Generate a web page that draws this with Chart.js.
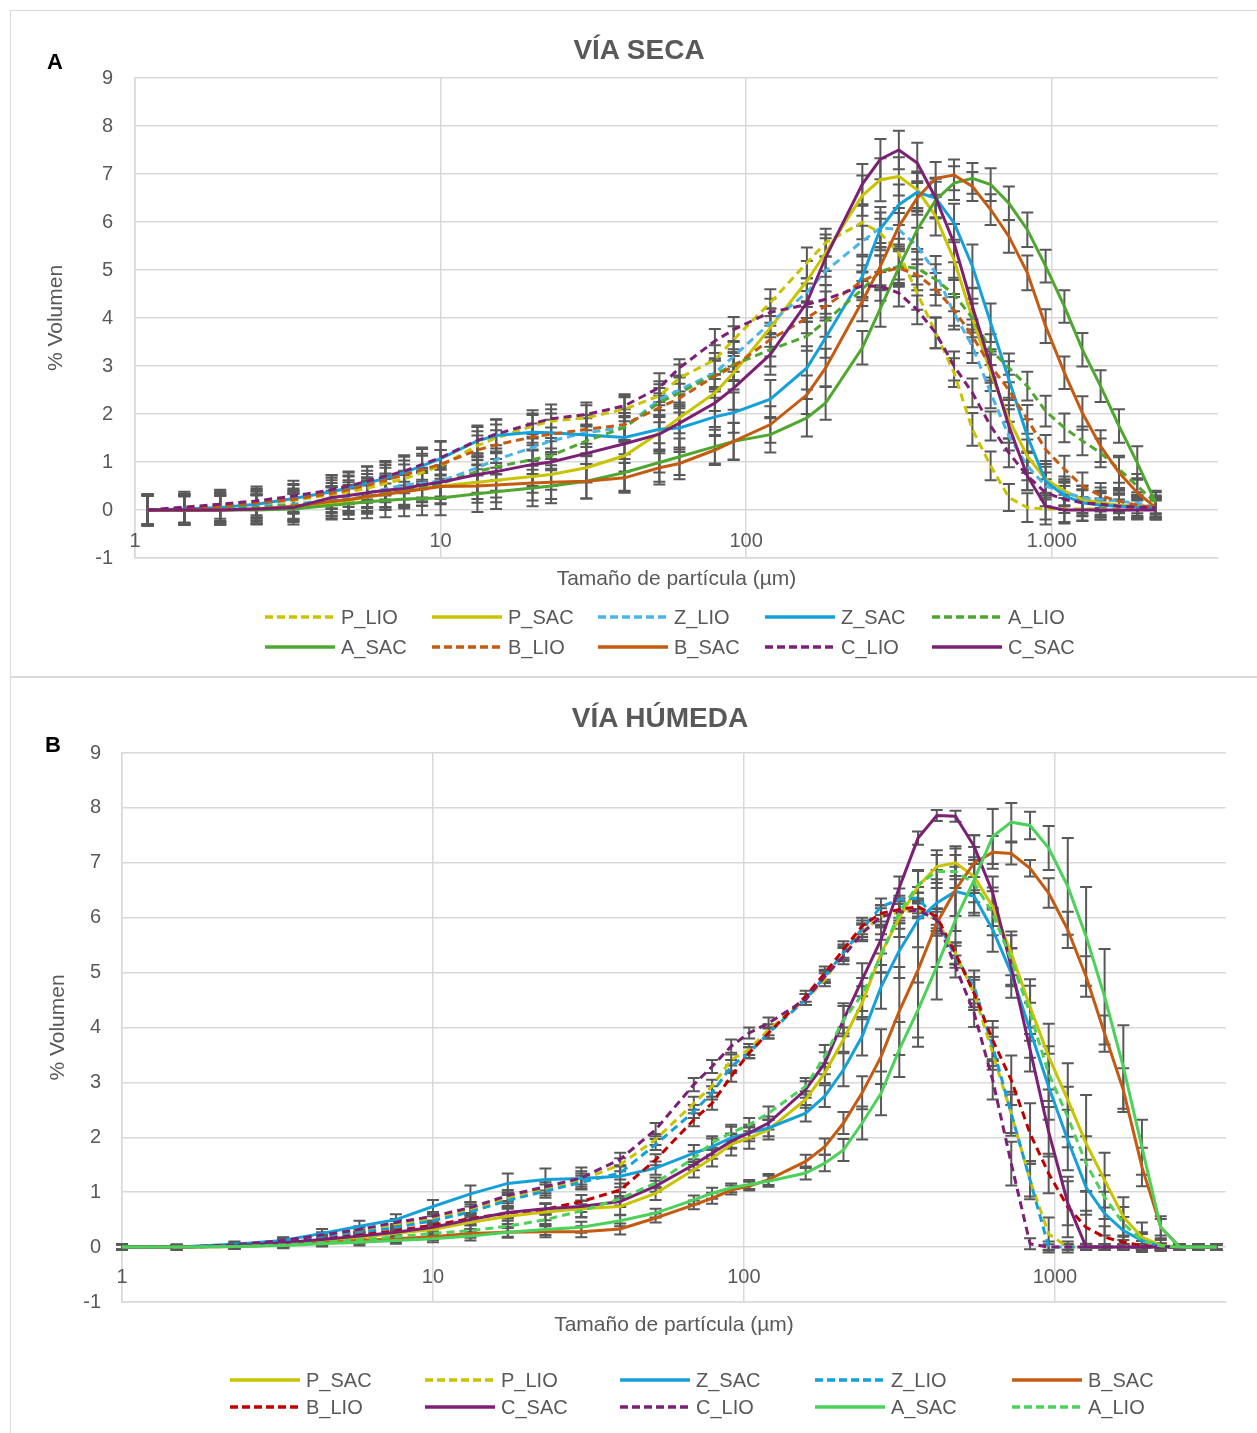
<!DOCTYPE html>
<html>
<head>
<meta charset="utf-8">
<script src="https://cdn.jsdelivr.net/npm/chart.js@4.4.1/dist/chart.umd.min.js"></script>
<style>
  body { margin: 0; width: 1257px; height: 1433px; overflow: hidden; background: #fff; position: relative;
         font-family: "Liberation Sans", Arial, sans-serif; }
  .frame { position: absolute; border: 1.5px solid #d9d9d9; }
  canvas { position: absolute; }
  .ttl { position: absolute; font-weight: bold; font-size: 28px; line-height: 32px; color: #595959;
         transform: translateX(-50%); white-space: nowrap; }
  .tag { position: absolute; font-weight: bold; font-size: 22px; line-height: 26px; color: #000; }
  .leg { position: absolute; font-size: 20px; line-height: 24px; height: 24px; color: #595959;
         white-space: nowrap; display: flex; align-items: center; }
  .leg svg { margin-right: 6px; }
</style>
</head>
<body>
<div class="frame" style="left:10px;top:10px;width:1260px;height:665px"></div>
<div class="frame" style="left:10px;top:677px;width:1260px;height:770px"></div>
<canvas id="chartA" width="1247" height="665" style="left:10px;top:10px"></canvas>
<canvas id="chartB" width="1247" height="756" style="left:10px;top:677px"></canvas>
<div class="ttl" style="left:639px;top:34px">VÍA SECA</div>
<div class="ttl" style="left:660px;top:702px">VÍA HÚMEDA</div>
<div class="tag" style="left:47px;top:49px">A</div>
<div class="tag" style="left:45px;top:732px">B</div>
<div id="legends"></div>

<script>
const FONT = '"Liberation Sans", Arial, sans-serif'

// ---- panel A: VÍA SECA ----
const sizesA = [1.1, 1.45, 1.9, 2.5, 3.3, 4.4, 5.0, 5.75, 6.6, 7.6, 8.7, 10, 13.2, 15.2, 20, 23, 30, 40, 52, 60.5,
  79, 91, 120, 158, 182, 240, 275, 316, 363, 417, 479, 550, 631, 724, 832, 955, 1100, 1260, 1445, 1660, 1905, 2190]
const ticksA = [1, 10, 100, 1000]
const tickLabelsA = ['1', '10', '100', '1.000']

const secaP_LIO = [0, 0.03, 0.07, 0.12, 0.2, 0.32, 0.38, 0.45, 0.55, 0.65, 0.78, 0.92, 1.34, 1.5, 1.75, 1.85, 1.92, 2.1, 2.38, 2.75,
  3.13, 3.55, 4.32, 5.15, 5.57, 5.99, 5.77, 5.35, 4.52, 3.69, 2.86, 1.68, 0.92, 0.26, 0.05, 0.02, 0.02, 0.02, 0.02, 0.02, 0.02, 0.02]
const secaP_SAC = [0, 0, 0, 0.02, 0.06, 0.15, 0.2, 0.27, 0.33, 0.4, 0.45, 0.5, 0.58, 0.62, 0.7, 0.74, 0.88, 1.13, 1.61, 1.92,
  2.44, 2.86, 3.8, 4.77, 5.36, 6.55, 6.88, 6.95, 6.67, 6.12, 5.21, 4.0, 2.86, 1.89, 1.12, 0.64, 0.4, 0.22, 0.15, 0.1, 0.08, 0.05]
const secaZ_LIO = [0, 0.02, 0.05, 0.08, 0.12, 0.22, 0.28, 0.36, 0.44, 0.52, 0.56, 0.6, 0.88, 1.05, 1.3, 1.44, 1.61, 1.72, 2.3, 2.5,
  2.86, 3.2, 3.9, 4.53, 4.98, 5.6, 5.88, 5.84, 5.5, 4.94, 4.1, 3.41, 2.44, 1.54, 0.92, 0.5, 0.36, 0.26, 0.22, 0.18, 0.15, 0.05]
const secaZ_SAC = [0, 0.02, 0.05, 0.12, 0.24, 0.38, 0.46, 0.56, 0.66, 0.78, 0.92, 1.07, 1.44, 1.55, 1.62, 1.61, 1.56, 1.51, 1.68, 1.71,
  1.94, 2.03, 2.31, 2.96, 3.59, 4.87, 5.86, 6.36, 6.62, 6.5, 5.98, 5.08, 3.9, 2.72, 1.54, 0.6, 0.3, 0.15, 0.1, 0.08, 0.06, 0.05]
const secaA_LIO = [0, 0, 0.02, 0.05, 0.1, 0.18, 0.22, 0.28, 0.35, 0.42, 0.48, 0.55, 0.8, 0.9, 1.05, 1.13, 1.44, 1.72, 2.24, 2.44,
  2.82, 3.03, 3.34, 3.62, 3.93, 4.6, 4.97, 5.08, 5.04, 4.8, 4.49, 4.0, 3.34, 2.96, 2.58, 2.06, 1.71, 1.44, 1.19, 0.85, 0.5, 0.15]
const secaA_SAC = [0, 0, 0, 0, 0.02, 0.1, 0.13, 0.17, 0.2, 0.23, 0.24, 0.25, 0.34, 0.38, 0.46, 0.5, 0.6, 0.78, 0.99, 1.11,
  1.32, 1.43, 1.57, 1.92, 2.23, 3.38, 4.2, 5.05, 5.84, 6.46, 6.81, 6.91, 6.78, 6.39, 5.84, 5.08, 4.24, 3.34, 2.58, 1.75, 0.98, 0.15]
const secaB_LIO = [0, 0.03, 0.08, 0.15, 0.22, 0.35, 0.42, 0.52, 0.62, 0.73, 0.84, 0.95, 1.25, 1.36, 1.52, 1.58, 1.68, 1.78, 2.13, 2.33,
  2.79, 2.99, 3.55, 4.0, 4.25, 4.77, 4.95, 5.04, 4.9, 4.6, 4.17, 3.62, 3.0, 2.5, 1.89, 1.26, 0.85, 0.5, 0.3, 0.18, 0.1, 0.05]
const secaB_SAC = [0, 0, 0, 0.02, 0.08, 0.18, 0.22, 0.28, 0.33, 0.38, 0.43, 0.49, 0.5, 0.52, 0.56, 0.58, 0.6, 0.67, 0.88, 0.97,
  1.25, 1.43, 1.78, 2.4, 2.96, 4.35, 5.08, 5.91, 6.5, 6.91, 6.98, 6.74, 6.26, 5.7, 4.94, 3.83, 2.86, 2.02, 1.33, 0.78, 0.36, 0.05]
const secaC_LIO = [0, 0.06, 0.12, 0.19, 0.29, 0.42, 0.5, 0.6, 0.7, 0.81, 0.95, 1.09, 1.45, 1.58, 1.8, 1.9, 1.99, 2.17, 2.55, 2.96,
  3.52, 3.76, 4.12, 4.28, 4.39, 4.67, 4.66, 4.52, 4.17, 3.69, 3.0, 2.44, 1.75, 1.19, 0.71, 0.36, 0.22, 0.15, 0.12, 0.08, 0.06, 0.05]
const secaC_SAC = [0, 0, 0, 0.02, 0.05, 0.26, 0.3, 0.36, 0.41, 0.45, 0.52, 0.58, 0.74, 0.8, 0.95, 1.0, 1.18, 1.38, 1.58, 1.81,
  2.23, 2.54, 3.24, 4.32, 5.26, 6.79, 7.31, 7.5, 7.23, 6.5, 5.56, 4.24, 3.0, 1.75, 0.71, 0.08, 0, 0, 0, 0, 0, 0]

// standard deviations (error bars)
const errSecaP_LIO = [0.32, 0.3, 0.3, 0.28, 0.25, 0.3, 0.32, 0.3, 0.33, 0.3, 0.35, 0.33, 0.3, 0.28, 0.26, 0.25, 0.26, 0.25, 0.3, 0.28,
  0.3, 0.28, 0.28, 0.32, 0.29, 0.35, 0.3, 0.3, 0.35, 0.32, 0.3, 0.34, 0.3, 0.28, 0.3, 0.32, 0.3, 0.25, 0.22, 0.2, 0.2, 0.2]
const errSecaP_SAC = [0.3, 0.28, 0.3, 0.3, 0.28, 0.32, 0.3, 0.35, 0.32, 0.34, 0.36, 0.38, 0.35, 0.36, 0.34, 0.32, 0.3, 0.33, 0.35, 0.32,
  0.38, 0.35, 0.4, 0.42, 0.38, 0.42, 0.45, 0.4, 0.38, 0.4, 0.42, 0.4, 0.38, 0.4, 0.35, 0.38, 0.3, 0.28, 0.25, 0.25, 0.22, 0.22]
const errSecaZ_LIO = [0.3, 0.32, 0.3, 0.3, 0.3, 0.28, 0.3, 0.3, 0.28, 0.3, 0.3, 0.32, 0.3, 0.3, 0.28, 0.28, 0.3, 0.3, 0.32, 0.3,
  0.3, 0.32, 0.3, 0.3, 0.3, 0.32, 0.32, 0.35, 0.38, 0.35, 0.34, 0.35, 0.32, 0.3, 0.3, 0.28, 0.28, 0.25, 0.25, 0.22, 0.22, 0.2]
const errSecaZ_SAC = [0.33, 0.32, 0.3, 0.3, 0.3, 0.35, 0.32, 0.35, 0.33, 0.36, 0.38, 0.35, 0.32, 0.34, 0.36, 0.4, 0.42, 0.45, 0.5, 0.45,
  0.4, 0.42, 0.4, 0.45, 0.42, 0.45, 0.45, 0.42, 0.4, 0.42, 0.4, 0.45, 0.4, 0.38, 0.35, 0.3, 0.3, 0.28, 0.25, 0.25, 0.22, 0.2]
const errSecaA_LIO = [0.3, 0.3, 0.28, 0.28, 0.3, 0.3, 0.28, 0.3, 0.3, 0.32, 0.3, 0.3, 0.3, 0.28, 0.3, 0.3, 0.32, 0.3, 0.3, 0.32,
  0.3, 0.32, 0.35, 0.3, 0.32, 0.35, 0.33, 0.35, 0.34, 0.32, 0.35, 0.3, 0.32, 0.3, 0.3, 0.32, 0.3, 0.3, 0.3, 0.28, 0.25, 0.22]
const errSecaA_SAC = [0.33, 0.3, 0.3, 0.3, 0.32, 0.3, 0.32, 0.34, 0.35, 0.36, 0.35, 0.36, 0.38, 0.36, 0.38, 0.36, 0.36, 0.38, 0.4, 0.38,
  0.35, 0.38, 0.37, 0.39, 0.35, 0.35, 0.38, 0.4, 0.4, 0.38, 0.35, 0.32, 0.34, 0.35, 0.36, 0.34, 0.34, 0.35, 0.33, 0.35, 0.35, 0.25]
const errSecaB_LIO = [0.3, 0.3, 0.32, 0.3, 0.3, 0.32, 0.3, 0.3, 0.32, 0.3, 0.33, 0.3, 0.3, 0.3, 0.28, 0.3, 0.3, 0.32, 0.3, 0.3,
  0.32, 0.3, 0.35, 0.32, 0.3, 0.33, 0.35, 0.35, 0.32, 0.34, 0.33, 0.35, 0.3, 0.32, 0.3, 0.3, 0.28, 0.28, 0.26, 0.25, 0.22, 0.22]
const errSecaB_SAC = [0.32, 0.3, 0.3, 0.3, 0.3, 0.3, 0.3, 0.32, 0.33, 0.35, 0.34, 0.35, 0.35, 0.36, 0.36, 0.35, 0.36, 0.31, 0.35, 0.33,
  0.31, 0.39, 0.38, 0.4, 0.4, 0.42, 0.4, 0.38, 0.35, 0.34, 0.32, 0.3, 0.32, 0.34, 0.36, 0.35, 0.34, 0.35, 0.33, 0.32, 0.3, 0.25]
const errSecaC_LIO = [0.3, 0.32, 0.3, 0.3, 0.32, 0.3, 0.3, 0.3, 0.32, 0.3, 0.32, 0.35, 0.28, 0.3, 0.28, 0.3, 0.25, 0.24, 0.3, 0.18,
  0.25, 0.26, 0.28, 0.28, 0.3, 0.3, 0.3, 0.28, 0.3, 0.32, 0.3, 0.3, 0.3, 0.3, 0.3, 0.28, 0.28, 0.26, 0.25, 0.24, 0.22, 0.2]
const errSecaC_SAC = [0.3, 0.3, 0.3, 0.3, 0.3, 0.3, 0.32, 0.32, 0.35, 0.34, 0.36, 0.35, 0.38, 0.4, 0.45, 0.5, 0.6, 1.0, 0.8, 0.6,
  0.5, 0.45, 0.42, 0.4, 0.4, 0.42, 0.42, 0.4, 0.42, 0.4, 0.4, 0.38, 0.35, 0.35, 0.3, 0.28, 0.25, 0.22, 0.2, 0.2, 0.2, 0.2]

// ---- panel B: VÍA HÚMEDA ----
const sizesB = [1, 1.5, 2.3, 3.3, 4.4, 5.8, 7.6, 10, 13.2, 17.4, 23, 30, 40, 52, 69, 79, 91, 104, 120, 158, 182, 209,
  240, 276, 316, 363, 417, 479, 550, 631, 724, 832, 955, 1100, 1260, 1445, 1660, 1905, 2190, 2520, 2890, 3310]
const ticksB = [1, 10, 100, 1000]
const tickLabelsB = ['1', '10', '100', '1000']

const humP_SAC = [0, 0, 0.01, 0.05, 0.1, 0.17, 0.25, 0.32, 0.45, 0.56, 0.64, 0.7, 0.74, 0.98, 1.41, 1.62, 1.87, 1.99, 2.14, 2.69, 3.17, 3.78,
  4.45, 5.35, 6.0, 6.57, 6.93, 7.0, 6.75, 6.2, 5.35, 4.38, 3.47, 2.68, 1.89, 1.22, 0.55, 0.18, 0.03, 0, 0, 0]
const humP_LIO = [0, 0, 0.03, 0.1, 0.2, 0.3, 0.42, 0.52, 0.68, 0.9, 1.06, 1.22, 1.5, 1.96, 2.62, 2.93, 3.41, 3.6, 3.96, 4.51, 4.87, 5.36,
  5.75, 6.02, 6.1, 6.14, 5.96, 5.35, 4.62, 3.53, 2.43, 1.22, 0.24, 0, 0, 0, 0, 0, 0, 0, 0, 0]
const humZ_SAC = [0, 0, 0.05, 0.12, 0.25, 0.38, 0.5, 0.74, 0.97, 1.16, 1.23, 1.25, 1.29, 1.44, 1.71, 1.83, 1.99, 2.08, 2.17, 2.44, 2.75, 3.23,
  3.84, 4.74, 5.4, 5.96, 6.27, 6.48, 6.39, 5.78, 4.99, 3.95, 2.92, 1.95, 1.09, 0.61, 0.3, 0.12, 0.01, 0, 0, 0]
const humZ_LIO = [0, 0, 0.03, 0.09, 0.17, 0.26, 0.36, 0.48, 0.64, 0.85, 1.02, 1.18, 1.35, 1.87, 2.47, 2.81, 3.29, 3.54, 3.9, 4.51, 4.93, 5.36,
  5.8, 6.2, 6.33, 6.36, 5.96, 5.29, 4.74, 3.65, 2.43, 1.22, 0, 0, 0, 0, 0, 0, 0, 0, 0, 0]
const humB_SAC = [0, 0, 0.01, 0.04, 0.08, 0.12, 0.15, 0.19, 0.25, 0.27, 0.28, 0.28, 0.33, 0.53, 0.77, 0.89, 1.04, 1.11, 1.23, 1.56, 1.83, 2.26,
  2.81, 3.47, 4.3, 5.05, 5.9, 6.51, 7.0, 7.19, 7.17, 6.9, 6.45, 5.78, 4.93, 3.89, 2.86, 1.46, 0.36, 0, 0, 0]
const humB_LIO = [0, 0, 0.02, 0.08, 0.14, 0.22, 0.3, 0.4, 0.52, 0.62, 0.69, 0.83, 1.04, 1.59, 2.32, 2.62, 3.11, 3.54, 3.9, 4.57, 4.99, 5.42,
  5.85, 6.08, 6.15, 6.2, 6.02, 5.35, 4.62, 3.77, 3.04, 2.07, 1.34, 0.73, 0.36, 0.18, 0.09, 0.03, 0, 0, 0, 0]
const humC_SAC = [0, 0, 0.02, 0.08, 0.14, 0.2, 0.27, 0.36, 0.5, 0.63, 0.7, 0.74, 0.83, 1.11, 1.5, 1.71, 1.93, 2.08, 2.26, 2.87, 3.35, 4.14,
  4.87, 5.6, 6.55, 7.45, 7.86, 7.85, 7.3, 6.45, 5.1, 3.6, 2.1, 0.8, 0, 0, 0, 0, 0, 0, 0, 0]
const humC_LIO = [0, 0, 0.04, 0.12, 0.22, 0.32, 0.45, 0.56, 0.72, 0.94, 1.1, 1.26, 1.6, 2.14, 2.96, 3.29, 3.66, 3.9, 4.08, 4.51, 4.93, 5.3,
  5.72, 6.02, 6.1, 6.14, 5.96, 5.11, 4.26, 3.04, 1.52, 0.06, 0, 0, 0, 0, 0, 0, 0, 0, 0, 0]
const humA_SAC = [0, 0, 0.01, 0.03, 0.06, 0.09, 0.12, 0.15, 0.2, 0.27, 0.32, 0.36, 0.48, 0.62, 0.86, 0.98, 1.08, 1.14, 1.2, 1.35, 1.53, 1.77,
  2.26, 2.8, 3.6, 4.32, 5.11, 5.96, 6.69, 7.48, 7.74, 7.68, 7.27, 6.57, 5.66, 4.56, 3.28, 1.82, 0.36, 0, 0, 0]
const humA_LIO = [0, 0, 0.01, 0.04, 0.08, 0.13, 0.19, 0.25, 0.3, 0.38, 0.5, 0.66, 0.88, 1.17, 1.62, 1.9, 2.08, 2.23, 2.44, 2.93, 3.48, 4.14,
  4.6, 5.3, 6.1, 6.6, 6.84, 6.84, 6.63, 6.08, 5.23, 4.26, 3.16, 2.37, 1.52, 0.91, 0.43, 0.12, 0.02, 0, 0, 0]

const errHumP_SAC = [0.05, 0.04, 0.04, 0.05, 0.06, 0.06, 0.07, 0.1, 0.12, 0.14, 0.15, 0.15, 0.15, 0.12, 0.14, 0.15, 0.2, 0.2, 0.18, 0.15, 0.18, 0.22,
  0.3, 0.35, 0.35, 0.3, 0.3, 0.3, 0.3, 0.35, 0.4, 0.5, 0.6, 0.67, 0.88, 0.5, 0.36, 0.27, 0.1, 0.05, 0.05, 0.05]
const errHumP_LIO = [0.05, 0.04, 0.04, 0.05, 0.05, 0.06, 0.06, 0.08, 0.1, 0.1, 0.12, 0.12, 0.12, 0.1, 0.12, 0.12, 0.1, 0.1, 0.1, 0.1, 0.12, 0.15,
  0.15, 0.2, 0.2, 0.15, 0.2, 0.2, 0.25, 0.3, 0.4, 0.35, 0.3, 0.1, 0.05, 0.05, 0.05, 0.05, 0.05, 0.05, 0.05, 0.05]
const errHumZ_SAC = [0.05, 0.05, 0.05, 0.06, 0.08, 0.1, 0.1, 0.12, 0.15, 0.18, 0.2, 0.2, 0.2, 0.12, 0.15, 0.15, 0.2, 0.15, 0.15, 0.15, 0.2, 0.3,
  0.35, 0.4, 0.5, 0.5, 0.6, 0.45, 0.35, 0.4, 0.45, 0.5, 0.6, 0.55, 0.5, 0.4, 0.25, 0.12, 0.05, 0.05, 0.05, 0.05]
const errHumZ_LIO = [0.05, 0.04, 0.04, 0.05, 0.05, 0.06, 0.06, 0.08, 0.1, 0.1, 0.12, 0.12, 0.12, 0.1, 0.12, 0.12, 0.12, 0.1, 0.1, 0.1, 0.1, 0.12,
  0.15, 0.15, 0.2, 0.2, 0.2, 0.2, 0.3, 0.35, 0.35, 0.3, 0.1, 0.05, 0.05, 0.05, 0.05, 0.05, 0.05, 0.05, 0.05, 0.05]
const errHumB_SAC = [0.05, 0.04, 0.04, 0.05, 0.05, 0.06, 0.06, 0.06, 0.08, 0.08, 0.1, 0.1, 0.1, 0.08, 0.08, 0.1, 0.08, 0.08, 0.1, 0.12, 0.15, 0.2,
  0.3, 0.5, 0.8, 1.4, 0.8, 0.75, 0.5, 0.3, 0.2, 0.15, 0.27, 0.33, 0.37, 0.33, 0.4, 0.35, 0.2, 0.05, 0.05, 0.05]
const errHumB_LIO = [0.05, 0.04, 0.04, 0.05, 0.05, 0.06, 0.06, 0.08, 0.1, 0.1, 0.1, 0.12, 0.12, 0.1, 0.12, 0.12, 0.1, 0.1, 0.1, 0.1, 0.12, 0.15,
  0.15, 0.15, 0.15, 0.12, 0.15, 0.2, 0.3, 0.35, 0.45, 0.55, 0.36, 0.55, 0.3, 0.2, 0.12, 0.08, 0.05, 0.05, 0.05, 0.05]
const errHumC_SAC = [0.05, 0.04, 0.04, 0.05, 0.05, 0.06, 0.06, 0.08, 0.1, 0.1, 0.1, 0.1, 0.1, 0.1, 0.1, 0.1, 0.12, 0.1, 0.12, 0.15, 0.2, 0.3,
  0.3, 0.25, 0.2, 0.12, 0.1, 0.1, 0.2, 0.3, 0.35, 0.4, 0.45, 0.4, 0.05, 0.05, 0.05, 0.05, 0.05, 0.05, 0.05, 0.05]
const errHumC_LIO = [0.05, 0.04, 0.04, 0.05, 0.05, 0.06, 0.06, 0.08, 0.1, 0.1, 0.12, 0.12, 0.12, 0.12, 0.12, 0.12, 0.12, 0.1, 0.1, 0.1, 0.12, 0.15,
  0.15, 0.15, 0.15, 0.12, 0.15, 0.2, 0.25, 0.35, 0.4, 0.1, 0.05, 0.05, 0.05, 0.05, 0.05, 0.05, 0.05, 0.05, 0.05, 0.05]
const errHumA_SAC = [0.05, 0.04, 0.04, 0.05, 0.05, 0.06, 0.06, 0.06, 0.08, 0.1, 0.1, 0.1, 0.1, 0.08, 0.08, 0.1, 0.08, 0.08, 0.1, 0.12, 0.15, 0.2,
  0.3, 0.4, 0.5, 0.5, 0.6, 0.8, 0.6, 0.5, 0.35, 0.25, 0.4, 0.88, 0.9, 0.87, 0.76, 0.5, 0.15, 0.05, 0.05, 0.05]
const errHumA_LIO = [0.05, 0.04, 0.04, 0.05, 0.05, 0.06, 0.06, 0.08, 0.1, 0.1, 0.1, 0.12, 0.12, 0.1, 0.12, 0.12, 0.15, 0.12, 0.12, 0.15, 0.2, 0.25,
  0.3, 0.3, 0.3, 0.25, 0.3, 0.3, 0.35, 0.4, 0.45, 0.5, 0.5, 0.55, 0.5, 0.4, 0.3, 0.15, 0.05, 0.05, 0.05, 0.05]

const YELLOW = '#c9c400', ZLIGHT = '#4ab5e8', ZBLUE = '#14a0d8', GREEN = '#4ea72e', ORANGE = '#c55a11',
  PURPLE = '#7b2074', RED = '#c00000', LIME = '#4cd15a'

const seriesA = [
  { name: 'P_LIO', vals: secaP_LIO, errs: errSecaP_LIO, color: YELLOW, dash: true },
  { name: 'P_SAC', vals: secaP_SAC, errs: errSecaP_SAC, color: YELLOW, dash: false },
  { name: 'Z_LIO', vals: secaZ_LIO, errs: errSecaZ_LIO, color: ZLIGHT, dash: true },
  { name: 'Z_SAC', vals: secaZ_SAC, errs: errSecaZ_SAC, color: ZBLUE, dash: false },
  { name: 'A_LIO', vals: secaA_LIO, errs: errSecaA_LIO, color: GREEN, dash: true },
  { name: 'A_SAC', vals: secaA_SAC, errs: errSecaA_SAC, color: GREEN, dash: false },
  { name: 'B_LIO', vals: secaB_LIO, errs: errSecaB_LIO, color: ORANGE, dash: true },
  { name: 'B_SAC', vals: secaB_SAC, errs: errSecaB_SAC, color: ORANGE, dash: false },
  { name: 'C_LIO', vals: secaC_LIO, errs: errSecaC_LIO, color: PURPLE, dash: true },
  { name: 'C_SAC', vals: secaC_SAC, errs: errSecaC_SAC, color: PURPLE, dash: false }
]
const seriesB = [
  { name: 'P_SAC', vals: humP_SAC, errs: errHumP_SAC, color: YELLOW, dash: false },
  { name: 'P_LIO', vals: humP_LIO, errs: errHumP_LIO, color: YELLOW, dash: true },
  { name: 'Z_SAC', vals: humZ_SAC, errs: errHumZ_SAC, color: ZBLUE, dash: false },
  { name: 'Z_LIO', vals: humZ_LIO, errs: errHumZ_LIO, color: ZBLUE, dash: true },
  { name: 'B_SAC', vals: humB_SAC, errs: errHumB_SAC, color: ORANGE, dash: false },
  { name: 'B_LIO', vals: humB_LIO, errs: errHumB_LIO, color: RED, dash: true },
  { name: 'C_SAC', vals: humC_SAC, errs: errHumC_SAC, color: PURPLE, dash: false },
  { name: 'C_LIO', vals: humC_LIO, errs: errHumC_LIO, color: PURPLE, dash: true },
  { name: 'A_SAC', vals: humA_SAC, errs: errHumA_SAC, color: LIME, dash: false },
  { name: 'A_LIO', vals: humA_LIO, errs: errHumA_LIO, color: LIME, dash: true }
]

// gray I-shaped error bars, drawn under the lines
const errorBars = {
  id: 'errorBars',
  beforeDatasetsDraw(chart) {
    const ctx = chart.ctx, xs = chart.scales.x, ys = chart.scales.y
    ctx.save()
    ctx.strokeStyle = '#595959'
    ctx.lineWidth = 2
    chart.data.datasets.forEach(ds => {
      ds.data.forEach((p, i) => {
        const e = ds.errs[i]
        if (!e) return
        const px = xs.getPixelForValue(p.x)
        const y1 = ys.getPixelForValue(p.y + e), y2 = ys.getPixelForValue(p.y - e)
        ctx.beginPath()
        ctx.moveTo(px, y1); ctx.lineTo(px, y2)
        ctx.moveTo(px - 6, y1); ctx.lineTo(px + 6, y1)
        ctx.moveTo(px - 6, y2); ctx.lineTo(px + 6, y2)
        ctx.stroke()
      })
    })
    ctx.restore()
  }
}

// Excel puts the category labels just under the y=0 axis, inside the plot area,
// and chart.js clips its own tick labels to the axis box, so they are drawn here
const xTickLabels = {
  id: 'xTickLabels',
  afterDraw(chart, args, opts) {
    const ctx = chart.ctx, xs = chart.scales.x
    ctx.save()
    ctx.fillStyle = '#595959'
    ctx.font = '20px ' + FONT
    ctx.textAlign = 'center'
    ctx.textBaseline = 'middle'
    opts.values.forEach((v, i) => {
      ctx.fillText(opts.labels[i], xs.getPixelForValue(v), chart.chartArea.bottom - opts.lift)
    })
    ctx.restore()
  }
}

function buildChart(id, sizes, series, cfg) {
  const datasets = series.map((s, i) => ({
    label: s.name,
    data: sizes.map((x, k) => ({ x: x, y: s.vals[k] })),
    errs: s.errs,
    borderColor: s.color,
    backgroundColor: s.color,
    borderWidth: 3,
    borderDash: s.dash ? [8, 5] : [],
    pointRadius: 0,
    fill: false,
    tension: 0,
    order: series.length - i
  }))
  const gridOpts = { color: '#d9d9d9', lineWidth: 1.5, drawTicks: false }
  return new Chart(document.getElementById(id), {
    type: 'line',
    data: { datasets },
    options: {
      responsive: false,
      animation: false,
      devicePixelRatio: 1,
      layout: { padding: { top: cfg.top, right: cfg.right, left: 0, bottom: 0 } },
      plugins: {
        legend: { display: false },
        tooltip: { enabled: false },
        xTickLabels: { values: cfg.xticks, labels: cfg.xlabels, lift: cfg.lift }
      },
      scales: {
        x: {
          type: 'logarithmic', min: 1, max: cfg.xmax,
          afterBuildTicks: s => { s.ticks = cfg.xticks.map(v => ({ value: v })) },
          afterFit: s => { s.height = cfg.xh },
          ticks: { display: false },
          grid: gridOpts,
          border: { color: '#d9d9d9', width: 1.5 },
          title: {
            display: true, text: 'Tamaño de partícula (µm)', color: '#595959',
            font: { size: 21, family: FONT }, padding: { top: 0, bottom: cfg.xtpad }
          }
        },
        y: {
          min: -1, max: 9,
          afterFit: s => { s.width = cfg.yw },
          ticks: { stepSize: 1, padding: cfg.ypad, color: '#595959', font: { size: 20, family: FONT } },
          grid: gridOpts,
          border: { color: '#d9d9d9', width: 1.5 },
          title: {
            display: true, text: '% Volumen', color: '#595959',
            font: { size: 21, family: FONT }, padding: { top: cfg.ytpad, bottom: 0 }
          }
        }
      }
    },
    plugins: [errorBars, xTickLabels]
  })
}

buildChart('chartA', sizesA, seriesA, {
  top: 68, right: 39, xmax: 3500, xticks: ticksA, xlabels: tickLabelsA, lift: 17,
  xh: 117, xtpad: 83, yw: 125, ypad: 22, ytpad: 34
})
buildChart('chartB', sizesB, seriesB, {
  top: 76, right: 31, xmax: 3550, xticks: ticksB, xlabels: tickLabelsB, lift: 25,
  xh: 131, xtpad: 95, yw: 112, ypad: 21, ytpad: 36
})

// legends: 2 rows x 5 columns, Excel style
function buildLegend(series, cols, rows) {
  const box = document.getElementById('legends')
  series.forEach((s, i) => {
    const d = document.createElement('div')
    d.className = 'leg'
    d.style.left = cols[i % 5] + 'px'
    d.style.top = (rows[Math.floor(i / 5)] - 12) + 'px'
    const dash = s.dash ? ' stroke-dasharray="8 4"' : ''
    d.innerHTML = '<svg width="70" height="8"><line x1="0" y1="4" x2="70" y2="4" stroke="' + s.color +
      '" stroke-width="3.5"' + dash + '/></svg><span>' + s.name + '</span>'
    box.appendChild(d)
  })
}
buildLegend(seriesA, [265, 432, 598, 765, 932], [617, 647])
buildLegend(seriesB, [230, 425, 620, 815, 1012], [1380, 1407])
</script>
</body>
</html>
